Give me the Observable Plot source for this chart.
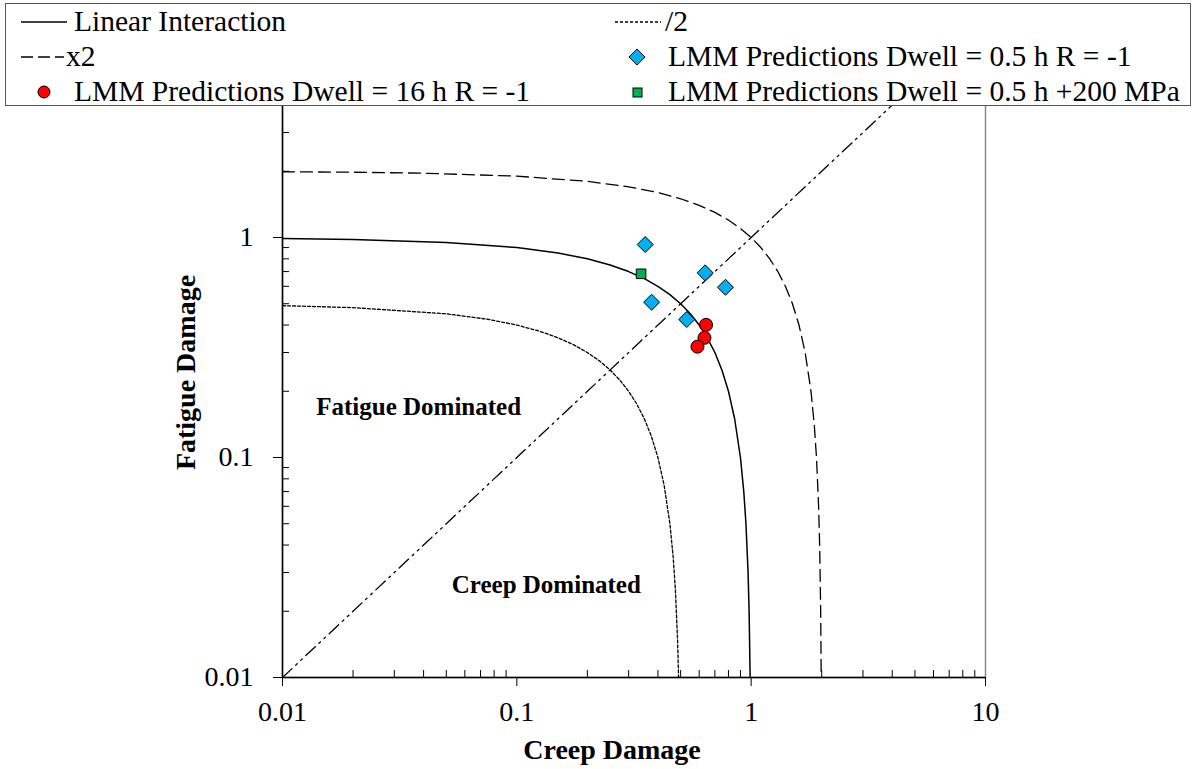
<!DOCTYPE html>
<html>
<head>
<meta charset="utf-8">
<script src="https://cdn.jsdelivr.net/npm/d3@7"></script>
<script src="https://cdn.jsdelivr.net/npm/@observablehq/plot@0.6"></script>
<style>
  html, body { margin: 0; padding: 0; background: #fff; }
  #wrap { position: relative; width: 1195px; height: 769px; font-family: "Liberation Serif", "Times New Roman", serif; }
  #legend { position: absolute; left: 5px; top: 3px; width: 1186px; height: 103px; border: 1.5px solid #555; background: #fff; box-sizing: border-box; }
  .item { position: absolute; font-family: "Liberation Serif", "Times New Roman", serif; font-size: 29.5px; line-height: 29px; white-space: nowrap; color: #000; }
  .item svg { position: absolute; overflow: visible; }
</style>
</head>
<body>
<div id="wrap">
  <div id="chart"></div>
  <div id="legend"></div>
</div>
<script>
// ---- Data ----
const xMajorTicks = [0.01, 0.1, 1, 10];
const xMinorTicks = [0.02,0.03,0.04,0.05,0.06,0.07,0.08,0.09,0.2,0.3,0.4,0.5,0.6,0.7,0.8,0.9,2,3,4,5,6,7,8,9];
const yMajorTicks = [0.01, 0.1, 1];
const yMinorTicks = [0.02,0.03,0.04,0.05,0.06,0.07,0.08,0.09,0.2,0.3,0.4,0.5,0.6,0.7,0.8,0.9,2,3,4,5,6,7,8,9];

// Linear interaction envelope (creep + fatigue = 1)
const creepLinear   = [0.01,0.02,0.05,0.1,0.15,0.2,0.25,0.3,0.35,0.4,0.45,0.5,0.55,0.6,0.65,0.7,0.75,0.8,0.85,0.9,0.93,0.95,0.97,0.98,0.99,0.995,0.999];
const fatigueLinear = [0.99,0.98,0.95,0.9,0.85,0.8,0.75,0.7,0.65,0.6,0.55,0.5,0.45,0.4,0.35,0.3,0.25,0.2,0.15,0.1,0.07,0.05,0.03,0.02,0.01,0.005,0.001];
// x2 envelope
const creepX2   = [0.01,0.02,0.04,0.1,0.2,0.3,0.4,0.5,0.6,0.7,0.8,0.9,1.0,1.1,1.2,1.3,1.4,1.5,1.6,1.7,1.8,1.86,1.9,1.94,1.96,1.98,1.99,1.998];
const fatigueX2 = [1.99,1.98,1.96,1.9,1.8,1.7,1.6,1.5,1.4,1.3,1.2,1.1,1.0,0.9,0.8,0.7,0.6,0.5,0.4,0.3,0.2,0.14,0.1,0.06,0.04,0.02,0.01,0.002];
// /2 envelope
const creepHalf   = [0.01,0.02,0.05,0.075,0.1,0.125,0.15,0.175,0.2,0.225,0.25,0.275,0.3,0.325,0.35,0.375,0.4,0.425,0.45,0.465,0.475,0.485,0.49,0.495,0.4995];
const fatigueHalf = [0.49,0.48,0.45,0.425,0.4,0.375,0.35,0.325,0.3,0.275,0.25,0.225,0.2,0.175,0.15,0.125,0.1,0.075,0.05,0.035,0.025,0.015,0.01,0.005,0.0005];
// Diagonal (creep = fatigue)
const creepDiag   = [0.01, 10];
const fatigueDiag = [0.01, 10];

// LMM predictions
const creep05   = [0.353, 0.636, 0.777, 0.376, 0.531];
const fatigue05 = [0.929, 0.691, 0.594, 0.508, 0.424];
const creep16   = [0.642, 0.632, 0.590];
const fatigue16 = [0.401, 0.350, 0.319];
const creep200   = [0.339];
const fatigue200 = [0.684];

// Region annotations
const annotLabels  = ["Fatigue Dominated", "Creep Dominated"];
const annotCreep   = [0.0381, 0.1336];
const annotFatigue = [0.169, 0.0262];

const colRed = "#ff0000", colBlue = "#00b0f0", colGreen = "#00b050";

const fmt = d => d3.format("~g")(d);

const chart = Plot.plot({
  width: 1195,
  height: 769,
  marginLeft: 282,
  marginRight: 210,
  marginTop: 17,
  marginBottom: 92,
  style: { fontFamily: "Liberation Serif, Times New Roman, serif", fontSize: "28px", color: "#000", background: "#fff" },
  x: { type: "log", domain: [0.01, 10] },
  y: { type: "log", domain: [0.01, 10] },
  marks: [
    Plot.frame({ stroke: "#888", strokeWidth: 1.5 }),
    Plot.line(creepDiag, { x: creepDiag, y: fatigueDiag, stroke: "#000", strokeWidth: 1.3, strokeDasharray: "13,5,2,5,2,5", clip: true }),
    Plot.line(creepHalf, { x: creepHalf, y: fatigueHalf, stroke: "#000", strokeWidth: 1.3, strokeDasharray: "3,2", clip: true }),
    Plot.line(creepX2, { x: creepX2, y: fatigueX2, stroke: "#000", strokeWidth: 1.3, strokeDasharray: "12,6", clip: true }),
    Plot.line(creepLinear, { x: creepLinear, y: fatigueLinear, stroke: "#000", strokeWidth: 1.5, clip: true }),
    Plot.ruleY([0.01], { stroke: "#000", strokeWidth: 1.5 }),
    Plot.ruleX([0.01], { stroke: "#000", strokeWidth: 1.5 }),
    Plot.axisX({ ticks: xMajorTicks, tickSize: 9, tickPadding: 15, tickFormat: fmt, label: null, fontSize: 28 }),
    Plot.axisX({ ticks: xMinorTicks, tickSize: 7, dy: -7, tickFormat: () => "", label: null }),
    Plot.axisY({ ticks: yMajorTicks, tickSize: 9, tickPadding: 20, tickFormat: fmt, label: null, fontSize: 28 }),
    Plot.axisY({ ticks: yMinorTicks, tickSize: 7, dx: 7, tickFormat: () => "", label: null }),
    Plot.dot(creep05, { x: creep05, y: fatigue05, symbol: "diamond2", r: 7.2, fill: colBlue, stroke: "#000", strokeWidth: 1 }),
    Plot.dot(creep200, { x: creep200, y: fatigue200, symbol: "square", r: 5.4, fill: colGreen, stroke: "#000", strokeWidth: 1 }),
    Plot.dot(creep16, { x: creep16, y: fatigue16, r: 6.5, fill: colRed, stroke: "#000", strokeWidth: 1 }),
    Plot.text(annotLabels, { x: annotCreep, y: annotFatigue, text: annotLabels, fontWeight: "bold", fontSize: 25, fill: "#000" }),
    Plot.text(["Creep Damage"], { frameAnchor: "bottom", textAnchor: "middle", dx: -22, dy: 81, lineAnchor: "bottom", fontWeight: "bold", fontSize: 28, fill: "#000" }),
    Plot.text(["Fatigue Damage"], { frameAnchor: "left", textAnchor: "middle", dx: -96, dy: 25, rotate: -90, fontWeight: "bold", fontSize: 28, fill: "#000" })
  ]
});
document.getElementById("chart").appendChild(chart);

// ---- Legend ----
const legendItems = [
  { label: "Linear Interaction", kind: "line", dash: null, left: 15, top: 3, sw: 46, tx: 53 },
  { label: "/2", kind: "line", dash: "3,2", left: 609, top: 3, sw: 46, tx: 50 },
  { label: "x2", kind: "line", dash: "12,5", left: 15, top: 38, sw: 43, tx: 45 },
  { label: "LMM Predictions Dwell = 0.5 h R = -1", kind: "diamond", color: colBlue, left: 611, top: 38, tx: 51 },
  { label: "LMM Predictions Dwell = 16 h R = -1", kind: "circle", color: colRed, left: 15, top: 73, tx: 53 },
  { label: "LMM Predictions Dwell = 0.5 h +200 MPa", kind: "square", color: colGreen, left: 611, top: 73, tx: 51 }
];
const leg = document.getElementById("legend");
for (const it of legendItems) {
  const d = document.createElement("div");
  d.className = "item";
  d.style.left = it.left + "px";
  d.style.top = it.top + "px";
  let sym = "";
  if (it.kind === "line") {
    sym = `<svg width="${it.sw}" height="28" style="left:0;top:0"><line x1="0" x2="${it.sw}" y1="15" y2="15" stroke="#000" stroke-width="1.5" ${it.dash ? `stroke-dasharray="${it.dash}"` : ""}/></svg>`;
  } else if (it.kind === "circle") {
    sym = `<svg width="30" height="28" style="left:15px;top:0"><circle cx="8" cy="15" r="6" fill="${it.color}" stroke="#000" stroke-width="1"/></svg>`;
  } else if (it.kind === "diamond") {
    sym = `<svg width="30" height="28" style="left:12px;top:0"><path d="M8,7L16,15L8,23L0,15Z" fill="${it.color}" stroke="#000" stroke-width="1"/></svg>`;
  } else {
    sym = `<svg width="30" height="28" style="left:12px;top:0"><rect x="4" y="11" width="9" height="9" fill="${it.color}" stroke="#000" stroke-width="1"/></svg>`;
  }
  d.innerHTML = sym + `<span style="position:absolute;left:${it.tx}px;top:0">${it.label}</span>`;
  leg.appendChild(d);
}
</script>
</body>
</html>
